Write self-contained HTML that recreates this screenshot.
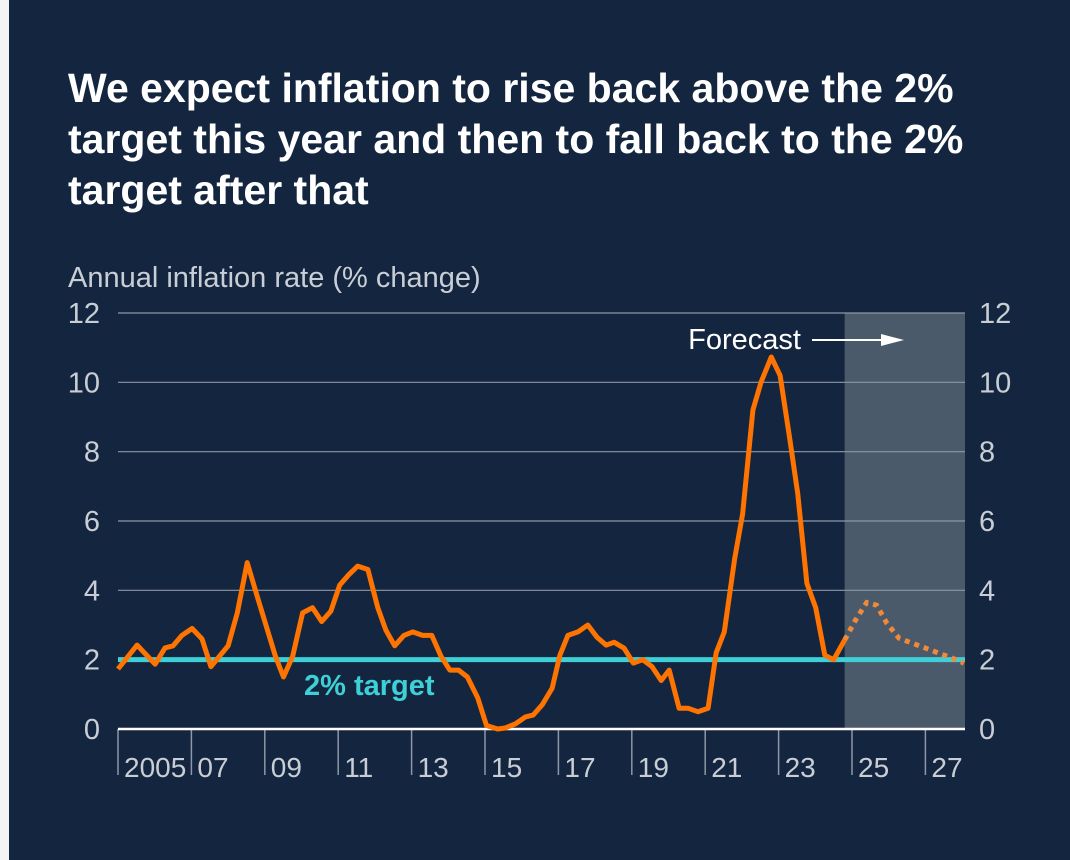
<!DOCTYPE html>
<html><head><meta charset="utf-8">
<style>
html,body{margin:0;padding:0;}
body{width:1070px;height:860px;background:#f4f4f4;position:relative;overflow:hidden;font-family:"Liberation Sans",Arial,sans-serif;}
#panel{position:absolute;left:9px;top:0;width:1061px;height:860px;background:#14263f;}
h1{position:absolute;left:68px;top:63px;margin:0;color:#fff;font-size:41px;line-height:51px;font-weight:bold;width:1000px;}
svg{position:absolute;left:0;top:0;}
</style></head>
<body>
<div id="panel"></div>
<h1>We expect inflation to rise back above the 2%<br>target this year and then to fall back to the 2%<br>target after that</h1>
<svg id="chart" width="1070" height="860"></svg>
<script>
const yTicks=[0,2,4,6,8,10,12];
const xLabels=["2005","07","09","11","13","15","17","19","21","23","25","27"];
const xLabelYears=[2005,2007,2009,2011,2013,2015,2017,2019,2021,2023,2025,2027];
const histDates=[2005.0,2005.52,2006.01,2006.28,2006.5,2006.74,2007.02,2007.29,2007.53,2008.0,2008.25,2008.52,2008.8,2009.29,2009.51,2009.76,2010.03,2010.3,2010.55,2010.8,2011.04,2011.29,2011.53,2011.81,2012.08,2012.3,2012.54,2012.79,2013.03,2013.3,2013.55,2013.8,2014.04,2014.28,2014.52,2014.8,2015.04,2015.34,2015.55,2015.83,2016.1,2016.31,2016.56,2016.83,2017.04,2017.26,2017.53,2017.8,2018.05,2018.3,2018.52,2018.79,2019.04,2019.3,2019.55,2019.8,2020.02,2020.29,2020.53,2020.8,2021.08,2021.3,2021.52,2021.8,2022.02,2022.3,2022.52,2022.8,2023.04,2023.3,2023.52,2023.77,2024.01,2024.26,2024.5,2024.8];
const histValues=[1.73,2.42,1.87,2.34,2.4,2.7,2.9,2.6,1.8,2.4,3.35,4.8,3.8,2.1,1.5,2.1,3.35,3.5,3.1,3.4,4.15,4.45,4.7,4.6,3.5,2.85,2.4,2.7,2.8,2.7,2.7,2.1,1.7,1.7,1.5,0.9,0.1,0.0,0.03,0.15,0.35,0.4,0.7,1.18,2.13,2.7,2.8,3.0,2.65,2.42,2.5,2.33,1.9,2.0,1.8,1.4,1.7,0.6,0.6,0.5,0.6,2.2,2.8,4.9,6.2,9.2,10.0,10.73,10.2,8.4,6.8,4.2,3.5,2.13,2.0,2.57];
const fcDates=[2024.8,2025.1,2025.4,2025.67,2025.95,2026.28,2026.63,2027.01,2027.36,2027.72,2028.05];
const fcValues=[2.57,3.15,3.65,3.57,3.05,2.62,2.48,2.33,2.19,2.05,1.9];
const targetValue=2;
const forecastStart=2024.8;

const NS="http://www.w3.org/2000/svg";
const svg=document.getElementById('chart');
const X0=118,X1=965,Y0=729,Y1=313;
const xs=y=>X0+(y-2005)*36.7;
const ys=v=>Y0-(v-0)*(Y0-Y1)/12;
function mk(tag,attrs,parent){const e=document.createElementNS(NS,tag);for(const k in attrs)e.setAttribute(k,attrs[k]);(parent||svg).appendChild(e);return e;}

let sh=mk('rect',{x:xs(forecastStart),y:Y1,width:X1-xs(forecastStart),height:Y0-Y1,fill:'#4a5a6b'});



yTicks.forEach(t=>{
  if(t>0){let g=mk('line',{x1:X0,x2:X1,y1:ys(t),y2:ys(t),stroke:'#8d97a6','stroke-width':1.2});
  
  }
  let l=mk('text',{x:100,y:ys(t)+10,'text-anchor':'end',fill:'#c9ced6','font-size':29});
  l.textContent=t;
  
  
  let r=mk('text',{x:979,y:ys(t)+10,'text-anchor':'start',fill:'#c9ced6','font-size':29});
  r.textContent=t;
  
  
});

let at=mk('text',{x:68,y:287,fill:'#c9ced6','font-size':29});
at.textContent='Annual inflation rate (% change)';



xLabelYears.forEach((yr,i)=>{
  let tk=mk('line',{x1:xs(yr),x2:xs(yr),y1:Y0,y2:775,stroke:'#8d97a6','stroke-width':1.5});
  
  
  let t=mk('text',{x:xs(yr)+6,y:777,fill:'#c9ced6','font-size':28});
  t.textContent=xLabels[i];
  
  
});

let tl=mk('line',{x1:X0,x2:X1,y1:ys(targetValue),y2:ys(targetValue),stroke:'#3ed0d6','stroke-width':5});


let tlab=mk('text',{x:304,y:695,fill:'#3ed0d6','font-size':29,'font-weight':'bold'});
tlab.textContent='2% target';



let bl=mk('line',{x1:X0,x2:X1,y1:Y0,y2:Y0,stroke:'#ffffff','stroke-width':2.5});



let hp=histDates.map((d,i)=>xs(d).toFixed(1)+','+ys(histValues[i]).toFixed(1)).join(' ');
let hl=mk('polyline',{points:hp,fill:'none',stroke:'#ff7300','stroke-width':5,'stroke-linejoin':'round'});



let fp=fcDates.map((d,i)=>xs(d).toFixed(1)+','+ys(fcValues[i]).toFixed(1)).join(' ');
let fl=mk('polyline',{points:fp,fill:'none',stroke:'#f08a3a','stroke-width':5,'stroke-dasharray':'5 5'});



let ft=mk('text',{x:801,y:349,'text-anchor':'end',fill:'#ffffff','font-size':29});
ft.textContent='Forecast';


let ar=mk('line',{x1:812,x2:888,y1:340,y2:340,stroke:'#ffffff','stroke-width':2});


let ah=mk('polygon',{points:'881,334 904,340 881,346',fill:'#ffffff'});


</script>
</body></html>
